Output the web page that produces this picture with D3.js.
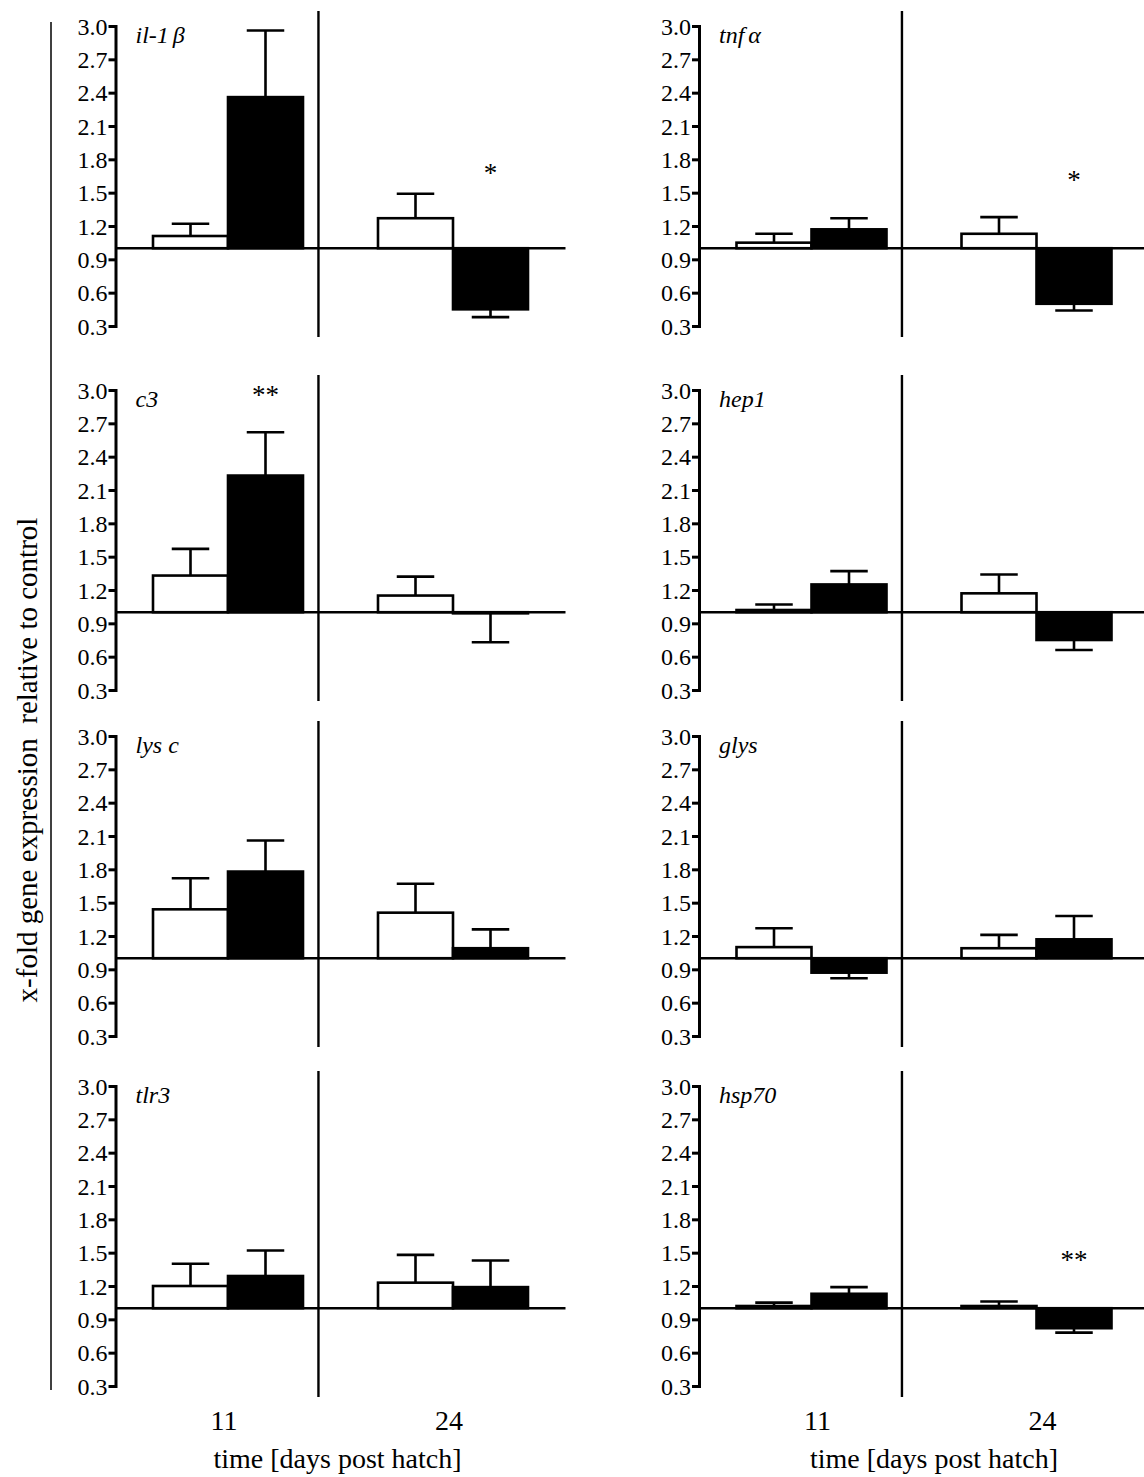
<!DOCTYPE html>
<html>
<head>
<meta charset="utf-8">
<script src="https://cdn.jsdelivr.net/npm/d3@7"></script>
<style>
  body { margin: 0; background: #fff; }
  svg text { font-family: "Liberation Serif", "Times New Roman", serif; fill: #000; }
</style>
</head>
<body>
<div id="chart"></div>
<script>
// gene panels, left to right, top to bottom
var genes = ["il-1", "tnf", "c3", "hep1", "lys c", "glys", "tlr3", "hsp70"];
var greek = ["β", "α", "", "", "", "", "", ""];
var days = ["11", "24"];
var groups = ["open", "filled"];

// bar heights (x-fold) for day 11 and day 24
var openMean   = [[1.11, 1.27], [1.05, 1.13], [1.33, 1.15], [1.02, 1.17], [1.44, 1.41], [1.10, 1.09], [1.20, 1.23], [1.02, 1.02]];
var openErr    = [[1.22, 1.49], [1.13, 1.28], [1.57, 1.32], [1.07, 1.34], [1.72, 1.67], [1.27, 1.21], [1.40, 1.48], [1.05, 1.06]];
var filledMean = [[2.36, 0.45], [1.17, 0.50], [2.23, 0.99], [1.25, 0.75], [1.78, 1.09], [0.87, 1.17], [1.29, 1.19], [1.13, 0.82]];
var filledErr  = [[2.96, 0.38], [1.27, 0.44], [2.62, 0.73], [1.37, 0.66], [2.06, 1.26], [0.82, 1.38], [1.52, 1.43], [1.19, 0.78]];

// significance marks above the filled bars, and the level they sit at
var stars     = [["", "*"], ["", "*"], ["**", ""], ["", ""], ["", ""], ["", ""], ["", ""], ["", "**"]];
var starLevel = [[0, 1.70], [0, 1.64], [2.98, 0], [0, 0], [0, 0], [0, 0], [0, 0], [0, 1.46]];

var yTicks = [0.3, 0.6, 0.9, 1.2, 1.5, 1.8, 2.1, 2.4, 2.7, 3.0];
var baseValue = 1.0;

var xTitle = "time [days post hatch]";
var yTitle = "x-fold gene expression  relative to control";

var W = 1144, H = 1477;
var panelW = 450, panelH = 300;
var colX = [115.5, 699];
var rowY = [26, 390, 736, 1086];

var svg = d3.select("#chart").append("svg")
    .attr("width", W)
    .attr("height", H);

var x = d3.scaleBand()
    .domain(days)
    .range([0, panelW])
    .paddingInner(1 / 3)
    .paddingOuter(1 / 6);

var sub = d3.scaleBand()
    .domain(groups)
    .range([0, x.bandwidth()]);

var y = d3.scaleLinear()
    .domain([0.3, 3.0])
    .range([panelH, 0]);

genes.forEach(function(gene, i) {
  var col = i % 2, row = Math.floor(i / 2);
  var g = svg.append("g")
      .attr("transform", "translate(" + colX[col] + "," + rowY[row] + ")");

  // divider between the two time points
  g.append("line")
      .attr("x1", panelW * 0.451).attr("x2", panelW * 0.451)
      .attr("y1", -15).attr("y2", panelH + 11)
      .attr("stroke", "#000").attr("stroke-width", 2.4);

  // y axis
  var ax = g.append("g")
      .call(d3.axisLeft(y)
        .tickValues(yTicks)
        .tickFormat(d3.format(".1f"))
        .tickSize(7)
        .tickSizeOuter(0)
        .tickPadding(1));
  ax.attr("font-family", null).attr("font-size", 24);
  ax.select(".domain").attr("stroke-width", 3).attr("stroke-linecap", "square");
  ax.selectAll(".tick line").attr("stroke-width", 3);
  ax.selectAll(".tick text").attr("dy", "0.34em");

  var rows = [];
  days.forEach(function(d, j) {
    rows.push({ day: d, grp: "open", v: openMean[i][j], e: openErr[i][j] });
    rows.push({ day: d, grp: "filled", v: filledMean[i][j], e: filledErr[i][j] });
  });

  g.selectAll(".bar")
    .data(rows)
    .enter().append("rect")
      .attr("class", "bar")
      .attr("x", function(d) { return x(d.day) + sub(d.grp); })
      .attr("width", sub.bandwidth())
      .attr("y", function(d) { return y(Math.max(d.v, baseValue)); })
      .attr("height", function(d) { return Math.abs(y(d.v) - y(baseValue)); })
      .attr("fill", function(d) { return d.grp === "open" ? "#fff" : "#000"; })
      .attr("stroke", "#000")
      .attr("stroke-width", 2.6);

  // error bars
  var eb = g.selectAll(".err")
    .data(rows)
    .enter().append("g")
      .attr("class", "err")
      .attr("transform", function(d) {
        return "translate(" + (x(d.day) + sub(d.grp) + sub.bandwidth() / 2) + ",0)";
      });
  eb.append("line")
      .attr("y1", function(d) { return y(d.v); })
      .attr("y2", function(d) { return y(d.e); })
      .attr("stroke", "#000").attr("stroke-width", 2.6);
  eb.append("line")
      .attr("x1", -sub.bandwidth() / 4).attr("x2", sub.bandwidth() / 4)
      .attr("y1", function(d) { return y(d.e); })
      .attr("y2", function(d) { return y(d.e); })
      .attr("stroke", "#000").attr("stroke-width", 2.6);

  // baseline at 1.0
  g.append("line")
      .attr("x1", 0).attr("x2", panelW)
      .attr("y1", y(baseValue)).attr("y2", y(baseValue))
      .attr("stroke", "#000").attr("stroke-width", 2.6);

  // significance
  days.forEach(function(d, j) {
    if (!stars[i][j]) return;
    g.append("text")
        .attr("x", x(d) + sub("filled") + sub.bandwidth() / 2)
        .attr("y", y(starLevel[i][j]) + 12)
        .attr("text-anchor", "middle")
        .attr("font-size", 27)
        .text(stars[i][j]);
  });

  // gene name
  var lab = g.append("text")
      .attr("x", 20)
      .attr("y", 17)
      .attr("font-size", 24)
      .attr("font-style", "italic")
      .text(gene);
  if (greek[i]) {
    lab.append("tspan").attr("dx", 4).text(greek[i]);
  }

  // time axis labels under the bottom row
  if (row === rowY.length - 1) {
    var shift = col === 0 ? -4 : 6;
    g.selectAll(".day")
      .data(days)
      .enter().append("text")
        .attr("class", "day")
        .attr("x", function(d) { return x(d) + x.bandwidth() / 2 + shift; })
        .attr("y", 1430 - rowY[row])
        .attr("text-anchor", "middle")
        .attr("font-size", 28)
        .text(function(d) { return d; });
    g.append("text")
        .attr("x", panelW / 2 + (col === 0 ? -3 : 10))
        .attr("y", 1468 - rowY[row])
        .attr("text-anchor", "middle")
        .attr("font-size", 28)
        .text(xTitle);
  }
});

// shared y title with its rule
svg.append("line")
    .attr("x1", 51).attr("x2", 51)
    .attr("y1", 22).attr("y2", 1390)
    .attr("stroke", "#000").attr("stroke-width", 1.5);

svg.append("text")
    .attr("transform", "translate(27,760) rotate(-90)")
    .attr("text-anchor", "middle")
    .attr("dominant-baseline", "central")
    .attr("font-size", 29)
    .style("white-space", "pre")
    .text(yTitle);
</script>
</body>
</html>
